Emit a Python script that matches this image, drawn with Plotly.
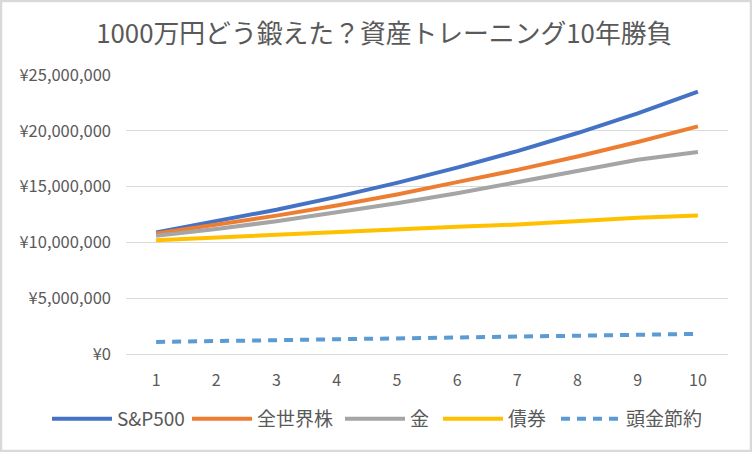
import plotly.graph_objects as go

years = [1, 2, 3, 4, 5, 6, 7, 8, 9, 10]
sp500 = [10900000, 11870000, 12930000, 14080000, 15330000, 16700000, 18180000, 19800000, 21570000, 23500000]
world = [10800000, 11600000, 12400000, 13300000, 14300000, 15400000, 16500000, 17700000, 19000000, 20400000]
gold = [10600000, 11200000, 11900000, 12700000, 13500000, 14400000, 15400000, 16400000, 17400000, 18100000]
bonds = [10200000, 10450000, 10650000, 10900000, 11150000, 11400000, 11600000, 11900000, 12200000, 12400000]
savings = [1080000, 1160000, 1240000, 1320000, 1400000, 1480000, 1560000, 1640000, 1720000, 1800000]

series = [
    ('S&P500', sp500, '#4472C4', 'solid'),
    ('全世界株', world, '#ED7D31', 'solid'),
    ('金', gold, '#A5A5A5', 'solid'),
    ('債券', bonds, '#FFC000', 'solid'),
    ('頭金節約', savings, '#5B9BD5', '9px,7px'),
]
# left edge (px) of each legend entry
legend_left = [57, 197, 350, 448, 566]

font_family = 'Noto Sans CJK JP, Noto Sans, sans-serif'
text_gray = '#595959'

fig = go.Figure()
legends = {}
for i, (name, vals, color, dash) in enumerate(series):
    key = 'legend' if i == 0 else f'legend{i + 1}'
    fig.add_trace(go.Scatter(x=years, y=vals, name=name, mode='lines', legend=key,
                             line=dict(color=color, width=4, dash=dash)))
    legends[key] = dict(orientation='h', xref='container', yref='container',
                        x=(legend_left[i] - 10) / 752, xanchor='left',
                        y=1 - 419 / 452, yanchor='middle',
                        bgcolor='rgba(0,0,0,0)',
                        font=dict(size=19, color=text_gray), itemwidth=60)

fig.update_layout(
    width=752, height=452,
    margin=dict(l=126, r=24, t=75, b=98, autoexpand=False),
    paper_bgcolor='white', plot_bgcolor='white',
    font=dict(family=font_family, color=text_gray, size=16),
    title=dict(text='1000万円どう鍛えた？資産トレーニング10年勝負',
               x=0.511, xanchor='center', y=0.925, yanchor='middle',
               font=dict(size=25.8, color=text_gray)),
    showlegend=True,
    xaxis=dict(range=[0.5, 10.5], tickmode='array', tickvals=years,
               ticktext=[str(y) for y in years], showgrid=False, zeroline=False,
               showline=False, ticks='', ticklabelstandoff=15, automargin=False,
               tickfont=dict(size=16, color=text_gray)),
    yaxis=dict(range=[0, 25000000], dtick=5000000, tickprefix='¥', tickformat=',d',
               showgrid=True, gridcolor='#D9D9D9', gridwidth=1.3, zeroline=True,
               zerolinecolor='#D9D9D9', zerolinewidth=1.3, ticks='', automargin=False,
               ticklabelstandoff=14, tickfont=dict(size=16.5, color=text_gray)),
    shapes=[dict(type='rect', xref='paper', yref='paper',
                 x0=-125 / 602, x1=1 + 23 / 602, y0=-97 / 279, y1=1 + 74 / 279,
                 line=dict(color='#D9D9D9', width=2.5), fillcolor='rgba(0,0,0,0)',
                 layer='below')],
    **legends,
)

fig.write_html("out.html", config={'displayModeBar': False},
               post_script="document.body.style.margin='0px';")
